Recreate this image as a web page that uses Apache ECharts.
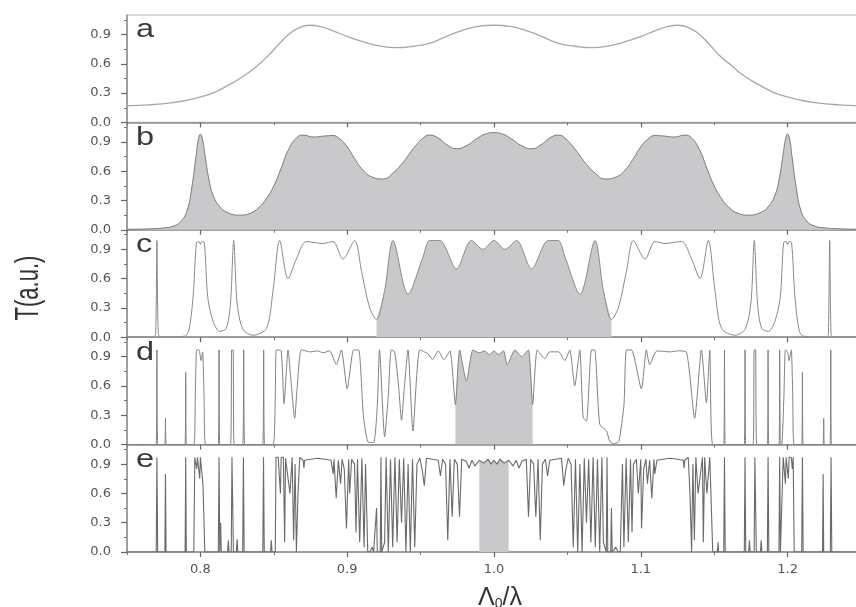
<!DOCTYPE html>
<html><head><meta charset="utf-8">
<script src="https://cdn.jsdelivr.net/npm/echarts@6/dist/echarts.min.js"></script>
<style>html,body{margin:0;padding:0;background:#fff}#c{width:856px;height:607px}</style>
</head><body><div id="c"></div>
<script>
// ---- tick values ----
const xTicks = [0.8, 0.9, 1.0, 1.1, 1.2];
const xMinorTicks = [0.75, 0.85, 0.95, 1.05, 1.15, 1.25];
const yTicks = [0, 0.3, 0.6, 0.9];
const yMinorTicks = [0.15, 0.45, 0.75, 1.05];
const panelLabels = ['a', 'b', 'c', 'd', 'e'];
const xName = 'Λ{sub|0}/λ';
const yName = 'T(a.u.)';

// ---- panel data [x, T] ----
const panelA = [[0.75,0.17],[0.765,0.18],[0.78,0.2],[0.792,0.23],[0.8,0.26],[0.81,0.31],[0.82,0.39],[0.83,0.48],[0.838,0.57],[0.846,0.68],[0.854,0.81],[0.86,0.9],[0.866,0.96],[0.8745,0.995],[0.882,0.98],[0.89,0.94],[0.9,0.88],[0.91,0.83],[0.92,0.79],[0.9335,0.765],[0.945,0.78],[0.956,0.81],[0.966,0.87],[0.976,0.93],[0.988,0.98],[1.0,0.995],[1.012,0.98],[1.024,0.93],[1.034,0.87],[1.044,0.81],[1.055,0.78],[1.0665,0.765],[1.08,0.79],[1.09,0.83],[1.1,0.88],[1.11,0.94],[1.118,0.98],[1.1255,0.995],[1.134,0.96],[1.14,0.9],[1.146,0.81],[1.154,0.68],[1.162,0.58],[1.17,0.48],[1.18,0.39],[1.19,0.31],[1.2,0.26],[1.208,0.23],[1.22,0.2],[1.235,0.18],[1.25,0.17]];

const panelB = [[0.75,0.005],[0.765,0.01],[0.775,0.02],[0.782,0.04],[0.787,0.09],[0.791,0.2],[0.794,0.42],[0.797,0.75],[0.7985,0.92],[0.8,0.98],[0.8015,0.92],[0.803,0.78],[0.806,0.5],[0.809,0.34],[0.813,0.24],[0.818,0.18],[0.8268,0.15],[0.834,0.17],[0.84,0.23],[0.845,0.32],[0.85,0.45],[0.855,0.63],[0.86,0.82],[0.8654,0.94],[0.87,0.97],[0.877,0.95],[0.884,0.96],[0.8903,0.965],[0.895,0.93],[0.9,0.85],[0.905,0.73],[0.9108,0.61],[0.917,0.54],[0.9244,0.52],[0.931,0.58],[0.938,0.69],[0.945,0.83],[0.951,0.93],[0.9562,0.97],[0.962,0.94],[0.968,0.87],[0.9744,0.83],[0.981,0.86],[0.988,0.93],[0.994,0.98],[1.0,0.995],[1.006,0.98],[1.012,0.93],[1.019,0.86],[1.0256,0.83],[1.032,0.87],[1.038,0.94],[1.0438,0.97],[1.049,0.93],[1.055,0.83],[1.062,0.69],[1.069,0.58],[1.0756,0.52],[1.083,0.54],[1.0892,0.61],[1.095,0.73],[1.1,0.85],[1.105,0.93],[1.1097,0.965],[1.116,0.96],[1.123,0.95],[1.13,0.97],[1.1346,0.94],[1.14,0.82],[1.145,0.63],[1.15,0.45],[1.155,0.32],[1.16,0.23],[1.166,0.17],[1.1732,0.15],[1.182,0.18],[1.187,0.24],[1.191,0.34],[1.194,0.5],[1.197,0.78],[1.1985,0.92],[1.2,0.98],[1.2015,0.92],[1.203,0.75],[1.206,0.42],[1.209,0.2],[1.213,0.09],[1.218,0.04],[1.225,0.02],[1.235,0.01],[1.25,0.005]];

const panelC = [[0.75,0],[0.768,0],[0.7695,0.04],[0.7704,0.99],[0.7713,0.04],[0.773,0],[0.789,0.01],[0.792,0.06],[0.795,0.41],[0.7973,0.97],[0.799,0.98],[0.8,0.95],[0.801,0.98],[0.8027,0.97],[0.805,0.41],[0.8086,0.165],[0.8131,0.06],[0.8177,0.09],[0.8205,0.35],[0.8227,0.99],[0.825,0.35],[0.829,0.08],[0.8358,0.02],[0.845,0.09],[0.8495,0.48],[0.854,0.99],[0.8597,0.6],[0.8654,0.8],[0.8722,0.98],[0.8835,0.96],[0.8903,0.98],[0.8971,0.8],[0.9051,0.99],[0.9097,0.68],[0.9153,0.3],[0.92,0.18],[0.9255,0.48],[0.9312,0.99],[0.9414,0.44],[0.9516,0.82],[0.9562,0.99],[0.963,0.99],[0.9744,0.7],[0.9846,0.99],[0.9925,0.9],[1.0,0.99],[1.0075,0.9],[1.0154,0.99],[1.0256,0.7],[1.037,0.99],[1.0438,0.99],[1.0484,0.82],[1.0586,0.44],[1.0688,0.99],[1.0745,0.48],[1.08,0.18],[1.0847,0.3],[1.0903,0.68],[1.0949,0.99],[1.1029,0.8],[1.1097,0.98],[1.1165,0.96],[1.1278,0.98],[1.1346,0.8],[1.1403,0.6],[1.146,0.99],[1.1505,0.48],[1.155,0.09],[1.1642,0.02],[1.171,0.08],[1.175,0.35],[1.1773,0.99],[1.1795,0.35],[1.1823,0.09],[1.1869,0.06],[1.1914,0.165],[1.195,0.41],[1.1973,0.97],[1.199,0.98],[1.2,0.95],[1.201,0.98],[1.2027,0.97],[1.205,0.41],[1.208,0.06],[1.211,0.01],[1.227,0],[1.2278,0.04],[1.2287,0.99],[1.2296,0.04],[1.231,0],[1.25,0]];

const panelD = [[0.75,0],[0.7698,0],[0.7704,0.97],[0.771,0],[0.7757,0],[0.7762,0.27],[0.7767,0],[0.7895,0],[0.79,0.74],[0.7905,0],[0.7955,0],[0.7965,0.5],[0.7975,0.97],[0.799,0.97],[0.8005,0.86],[0.8015,0.95],[0.8025,0.5],[0.8035,0],[0.8122,0],[0.8127,0.97],[0.8132,0],[0.8205,0],[0.8213,0.97],[0.8223,0.97],[0.823,0],[0.8288,0],[0.8295,0.97],[0.8302,0],[0.8425,0],[0.8431,0.97],[0.8437,0],[0.8495,0],[0.851,0.5],[0.8518,0.97],[0.855,0.96],[0.857,0.42],[0.8597,0.97],[0.862,0.6],[0.8642,0.27],[0.866,0.6],[0.8688,0.97],[0.875,0.95],[0.88,0.96],[0.8835,0.94],[0.888,0.96],[0.8926,0.82],[0.896,0.97],[0.9,0.57],[0.9044,0.97],[0.9078,0.97],[0.911,0.3],[0.914,0.03],[0.918,0.02],[0.9205,0.4],[0.922,0.97],[0.9255,0.08],[0.928,0.5],[0.93,0.97],[0.9323,0.95],[0.935,0.6],[0.937,0.25],[0.939,0.6],[0.9414,0.97],[0.9448,0.14],[0.9494,0.97],[0.955,0.93],[0.958,0.87],[0.962,0.96],[0.966,0.87],[0.97,0.96],[0.9737,0.41],[0.9766,0.97],[0.9812,0.65],[0.9857,0.97],[0.99,0.94],[0.9935,0.96],[0.997,0.92],[1.0,0.96],[1.003,0.92],[1.0065,0.96],[1.009,0.82],[1.0143,0.97],[1.0188,0.9],[1.0234,0.97],[1.0263,0.41],[1.0295,0.97],[1.0346,0.88],[1.038,0.95],[1.044,0.95],[1.0482,0.86],[1.0516,0.97],[1.055,0.6],[1.0584,0.97],[1.0607,0.28],[1.063,0.24],[1.0664,0.97],[1.0686,0.97],[1.072,0.21],[1.0766,0.14],[1.079,0.03],[1.082,0.01],[1.085,0.03],[1.0885,0.4],[1.0902,0.97],[1.0936,0.97],[1.1004,0.57],[1.1038,0.97],[1.106,0.82],[1.111,0.96],[1.12,0.95],[1.125,0.96],[1.131,0.95],[1.1367,0.27],[1.1413,0.97],[1.1447,0.43],[1.147,0.97],[1.149,0],[1.1565,0],[1.157,0.97],[1.1575,0],[1.1705,0],[1.171,0.97],[1.1715,0],[1.1765,0],[1.1772,0.97],[1.1782,0.97],[1.179,0],[1.1862,0],[1.1867,0.97],[1.1872,0],[1.1941,0],[1.1946,0.97],[1.1951,0],[1.196,0],[1.1975,0.5],[1.1985,0.97],[1.2,0.95],[1.201,0.86],[1.2025,0.97],[1.2035,0.5],[1.2045,0],[1.2096,0],[1.2101,0.74],[1.2106,0],[1.2241,0],[1.2246,0.27],[1.2251,0],[1.2289,0],[1.2294,0.97],[1.2299,0],[1.25,0]];

const panelE = [[0.75,0],[0.7699,0],[0.7704,0.97],[0.7709,0],[0.7758,0],[0.7762,0.8],[0.7766,0],[0.7896,0],[0.79,0.97],[0.7904,0],[0.7955,0],[0.7962,0.97],[0.797,0.97],[0.7975,0.85],[0.798,0.97],[0.7988,0.97],[0.7995,0.75],[0.8,0.97],[0.801,0.97],[0.8017,0.7],[0.8023,0.4],[0.803,0],[0.8122,0],[0.8127,0.97],[0.8132,0],[0.8138,0.3],[0.8142,0],[0.8185,0],[0.819,0.12],[0.8195,0],[0.821,0],[0.8215,0.97],[0.822,0.97],[0.8225,0],[0.8245,0],[0.825,0.13],[0.8255,0],[0.8288,0],[0.8293,0.97],[0.8298,0],[0.8425,0],[0.843,0.97],[0.8435,0],[0.8478,0],[0.8483,0.12],[0.8488,0],[0.851,0],[0.8515,0.97],[0.853,0.97],[0.8545,0.6],[0.855,0.97],[0.8565,0.97],[0.8574,0.1],[0.858,0.96],[0.861,0.6],[0.8625,0.97],[0.8635,0.12],[0.8645,0.9],[0.8654,0.0],[0.8665,0.6],[0.8677,0.97],[0.87,0.94],[0.8705,0.86],[0.871,0.94],[0.875,0.95],[0.88,0.96],[0.885,0.95],[0.889,0.94],[0.8905,0.8],[0.891,0.95],[0.8925,0.55],[0.894,0.94],[0.8955,0.7],[0.8965,0.95],[0.898,0.85],[0.8995,0.24],[0.901,0.95],[0.9017,0.6],[0.903,0.95],[0.905,0.9],[0.906,0.2],[0.907,0.95],[0.9085,0.1],[0.91,0.96],[0.9115,0.05],[0.9125,0.9],[0.914,0.0],[0.9155,0.0],[0.917,0.05],[0.918,0.0],[0.919,0.0],[0.92,0.45],[0.9205,0.0],[0.9225,0.0],[0.923,0.97],[0.9235,0.0],[0.9255,0.1],[0.9265,0.97],[0.928,0.0],[0.9295,0.95],[0.931,0.05],[0.9325,0.97],[0.934,0.1],[0.9355,0.95],[0.937,0.3],[0.9385,0.96],[0.94,0.0],[0.9415,0.9],[0.943,0.0],[0.9445,0.95],[0.946,0.05],[0.9475,0.9],[0.9495,0.96],[0.951,0.85],[0.9525,0.68],[0.954,0.96],[0.958,0.95],[0.962,0.94],[0.9635,0.78],[0.965,0.95],[0.967,0.9],[0.9685,0.12],[0.97,0.95],[0.9715,0.36],[0.973,0.95],[0.975,0.9],[0.9765,0.36],[0.978,0.95],[0.981,0.93],[0.983,0.86],[0.985,0.94],[0.987,0.88],[0.99,0.94],[0.993,0.91],[0.996,0.95],[0.998,0.9],[1.0,0.94],[1.002,0.9],[1.004,0.95],[1.007,0.91],[1.01,0.94],[1.013,0.88],[1.015,0.94],[1.017,0.86],[1.019,0.93],[1.022,0.95],[1.0235,0.36],[1.025,0.95],[1.027,0.9],[1.0285,0.36],[1.03,0.95],[1.0315,0.12],[1.033,0.9],[1.035,0.95],[1.0365,0.78],[1.038,0.94],[1.042,0.95],[1.046,0.96],[1.0475,0.68],[1.049,0.85],[1.0505,0.96],[1.0525,0.9],[1.054,0.05],[1.0555,0.95],[1.057,0.0],[1.0585,0.9],[1.06,0.0],[1.0615,0.96],[1.063,0.3],[1.0645,0.95],[1.066,0.1],[1.0675,0.97],[1.069,0.05],[1.0705,0.95],[1.072,0.0],[1.0735,0.97],[1.0745,0.1],[1.0765,0.0],[1.077,0.97],[1.0775,0.0],[1.0795,0.0],[1.08,0.45],[1.0805,0.0],[1.081,0.0],[1.083,0.05],[1.0845,0.0],[1.086,0.0],[1.0875,0.9],[1.0885,0.05],[1.09,0.96],[1.0915,0.1],[1.093,0.95],[1.094,0.2],[1.095,0.9],[1.097,0.95],[1.0983,0.6],[1.1,0.95],[1.1005,0.24],[1.102,0.85],[1.1035,0.95],[1.1045,0.7],[1.106,0.94],[1.1075,0.55],[1.109,0.95],[1.1095,0.8],[1.111,0.94],[1.115,0.95],[1.12,0.96],[1.125,0.95],[1.129,0.94],[1.1295,0.86],[1.13,0.94],[1.1323,0.97],[1.1335,0.6],[1.1346,0.0],[1.1355,0.9],[1.1365,0.12],[1.1375,0.97],[1.139,0.6],[1.142,0.97],[1.1426,0.1],[1.1435,0.97],[1.145,0.6],[1.147,0.97],[1.149,0.0],[1.1522,0],[1.1526,0.1],[1.153,0],[1.1565,0],[1.157,0.97],[1.1575,0],[1.1705,0],[1.171,0.97],[1.1715,0],[1.1735,0],[1.174,0.12],[1.1745,0],[1.1772,0],[1.1777,0.97],[1.1782,0.97],[1.1787,0],[1.1815,0],[1.182,0.12],[1.1825,0],[1.1862,0],[1.1867,0.97],[1.1872,0],[1.1941,0],[1.1946,0.97],[1.1951,0],[1.196,0],[1.197,0.97],[1.198,0.97],[1.1985,0.7],[1.199,0.97],[1.2,0.97],[1.2005,0.75],[1.201,0.97],[1.2025,0.97],[1.2032,0.85],[1.2038,0.97],[1.2045,0],[1.2096,0],[1.2101,0.97],[1.2106,0],[1.2238,0],[1.2242,0.8],[1.2246,0],[1.2291,0],[1.2296,0.97],[1.2301,0],[1.25,0]];

const panels = [panelA, panelB, panelC, panelD, panelE];
const shadeRanges = [null, null, [0.92, 1.08], [0.9737, 1.0263], [0.99, 1.01]];
const smoothing = [true, true, 0.3, 0.2, false];
const lineColors = ['#a8a8a8', '#7a7a7a', '#8a8a8a', '#808080', '#6a6a6a'];

function between(arr, lo, hi) { return arr.filter(p => p[0] >= lo - 1e-9 && p[0] <= hi + 1e-9); }

const chart = echarts.init(document.getElementById('c'), null, {renderer: 'canvas'});
const L = 127, W = 734, TOP = 15, PH = 107.4;
const grids = [], xAxes = [], yAxes = [], series = [], graphics = [];
const labelFont = 'DejaVu Sans';

panels.forEach((data, i) => {
  const top = TOP + i * PH;
  const last = i === panels.length - 1;
  grids.push({left: L, width: W, top: top, height: PH, show: true, borderColor: '#b8b8b8', borderWidth: 1,
    backgroundColor: 'transparent', containLabel: false, outerBoundsMode: 'none'});
  const xMain = {
    gridIndex: i, type: 'value', min: 0.75, max: 1.25, position: 'bottom',
    axisLine: {show: true, onZero: false, lineStyle: {color: '#8c8c8c', width: 1.5}},
    axisTick: {show: true, customValues: xTicks, length: 5, inside: false, lineStyle: {color: '#666', width: 1.2}},
    axisLabel: {show: last, customValues: xTicks, formatter: v => v.toFixed(1), color: '#555', fontSize: 13, fontFamily: labelFont, margin: 11},
    splitLine: {show: false}
  };
  if (last) {
    xMain.name = xName;
    xMain.nameLocation = 'middle';
    xMain.nameGap = 33;
    xMain.nameTextStyle = {fontSize: 25, color: '#333', fontFamily: 'Liberation Sans', padding: [0, 0, 0, 12],
      rich: {sub: {fontSize: 14, color: '#333', fontFamily: 'Liberation Sans', padding: [12, 0, 0, 0]}}};
  }
  xAxes.push(xMain);
  xAxes.push({gridIndex: i, type: 'value', min: 0.75, max: 1.25, position: 'bottom',
    axisLine: {show: false}, axisTick: {show: true, customValues: xMinorTicks, length: 3, lineStyle: {color: '#777'}},
    axisLabel: {show: false}, splitLine: {show: false}});
  yAxes.push({gridIndex: i, type: 'value', min: 0, max: 1.1, position: 'left',
    axisLine: {show: true, onZero: false, lineStyle: {color: '#8c8c8c', width: 1.5}},
    axisTick: {show: true, customValues: yTicks, length: 6, lineStyle: {color: '#666', width: 1.2}},
    axisLabel: {show: true, customValues: yTicks, formatter: v => v.toFixed(1), color: '#555', fontSize: 13, fontFamily: labelFont, margin: 16},
    splitLine: {show: false}});
  yAxes.push({gridIndex: i, type: 'value', min: 0, max: 1.1, position: 'left',
    axisLine: {show: false}, axisTick: {show: true, customValues: yMinorTicks, length: 3, lineStyle: {color: '#777'}},
    axisLabel: {show: false}, splitLine: {show: false}});

  const sr = shadeRanges[i];
  if (sr) {
    series.push({type: 'line', xAxisIndex: 2 * i, yAxisIndex: 2 * i, data: between(data, sr[0], sr[1]),
      smooth: smoothing[i], showSymbol: false, silent: true, z: 1,
      lineStyle: {width: 0, opacity: 0}, areaStyle: {color: '#c9c9cb', opacity: 1}});
  }
  const s = {type: 'line', xAxisIndex: 2 * i, yAxisIndex: 2 * i, data: data,
    smooth: smoothing[i], showSymbol: false, z: 2, clip: true,
    lineStyle: {color: lineColors[i], width: i === 0 ? 1.3 : (i === 4 ? 1.1 : 1)}};
  if (i === 1) s.areaStyle = {color: '#c9c9cb', opacity: 1};
  series.push(s);

  graphics.push({type: 'text', x: L + 9, y: top + 15.5, scaleX: 1.3, z: 10,
    style: {text: panelLabels[i], fontSize: 25, fontFamily: 'Liberation Sans', fill: '#3a3a3a',
      align: 'left', verticalAlign: 'middle', textAlign: 'left', textVerticalAlign: 'middle'}});
});

graphics.push({type: 'text', x: 29, y: 288, rotation: Math.PI / 2, scaleY: 1.5, z: 10,
  style: {text: yName, fontSize: 22, fontFamily: 'Liberation Sans', fill: '#333',
    align: 'center', verticalAlign: 'middle', textAlign: 'center', textVerticalAlign: 'middle'}});

chart.setOption({
  animation: false,
  backgroundColor: '#fff',
  grid: grids, xAxis: xAxes, yAxis: yAxes, series: series, graphic: graphics
});
</script></body></html>
